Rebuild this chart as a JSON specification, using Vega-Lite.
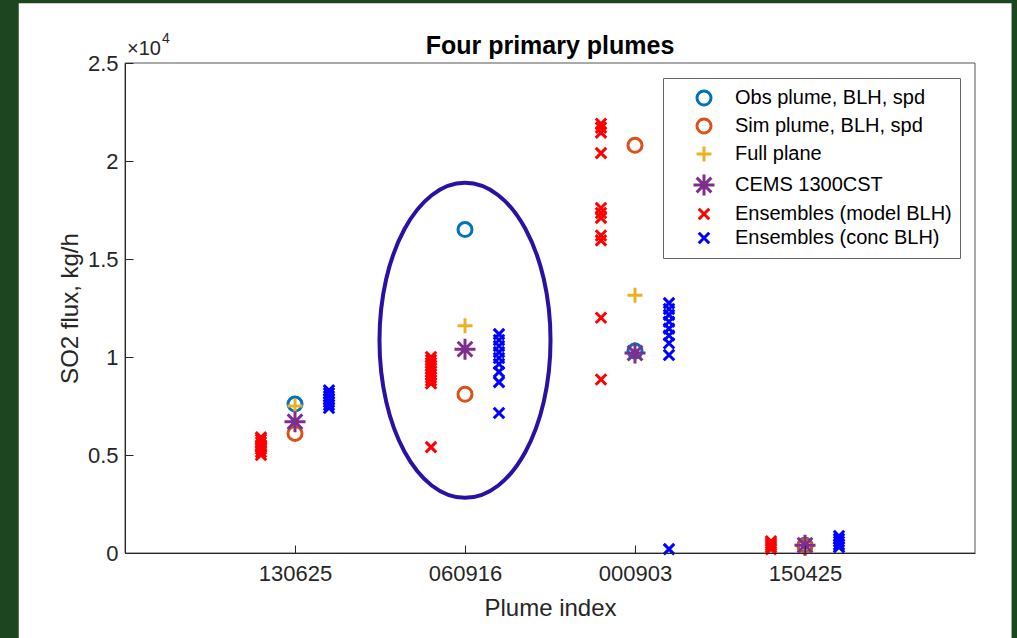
{
  "$schema": "https://vega.github.io/schema/vega-lite/v6.json",
  "width": 850,
  "height": 490,
  "autosize": {"type": "none"},
  "padding": {"left": 125, "top": 63, "right": 42, "bottom": 85},
  "background": "#1d4620",
  "config": {
    "view": {"stroke": null},
    "font": "Liberation Sans",
    "axis": {"domainColor": "#262626", "tickColor": "#262626", "labelColor": "#262626", "titleColor": "#262626", "labelFont": "Liberation Sans", "titleFont": "Liberation Sans", "labelFontSize": 22, "titleFontSize": 24, "titleFontWeight": "normal", "grid": false, "tickSize": -8, "domainWidth": 1, "tickWidth": 1},
    "legend": {"orient": "top-right", "offset": 15, "fillColor": "white", "strokeColor": "#666666", "padding": 8, "labelFont": "Liberation Sans", "labelFontSize": 20, "labelColor": "#000000", "rowPadding": 0, "symbolSize": 441, "symbolStrokeWidth": 3, "symbolOffset": 21, "labelOffset": 19, "labelLimit": 400, "zindex": 2}
  },
  "data": {"values": [
    {"idx": 1, "series": "Obs plume, BLH, spd", "flux": 7600},
    {"idx": 1, "series": "Sim plume, BLH, spd", "flux": 6100},
    {"idx": 1, "series": "Full plane", "flux": 7500},
    {"idx": 1, "series": "CEMS 1300CST", "flux": 6700},
    {"idx": 2, "series": "Obs plume, BLH, spd", "flux": 16500},
    {"idx": 2, "series": "Sim plume, BLH, spd", "flux": 8100},
    {"idx": 2, "series": "Full plane", "flux": 11600},
    {"idx": 2, "series": "CEMS 1300CST", "flux": 10400},
    {"idx": 3, "series": "Obs plume, BLH, spd", "flux": 10300},
    {"idx": 3, "series": "Sim plume, BLH, spd", "flux": 20800},
    {"idx": 3, "series": "Full plane", "flux": 13150},
    {"idx": 3, "series": "CEMS 1300CST", "flux": 10200},
    {"idx": 4, "series": "Obs plume, BLH, spd", "flux": 400},
    {"idx": 4, "series": "Sim plume, BLH, spd", "flux": 350},
    {"idx": 4, "series": "Full plane", "flux": 400},
    {"idx": 4, "series": "CEMS 1300CST", "flux": 400},
    {"idx": 1, "series": "Ensembles (model BLH)", "flux": 5900},
    {"idx": 1, "series": "Ensembles (model BLH)", "flux": 5800},
    {"idx": 1, "series": "Ensembles (model BLH)", "flux": 5650},
    {"idx": 1, "series": "Ensembles (model BLH)", "flux": 5500},
    {"idx": 1, "series": "Ensembles (model BLH)", "flux": 5400},
    {"idx": 1, "series": "Ensembles (model BLH)", "flux": 5300},
    {"idx": 1, "series": "Ensembles (model BLH)", "flux": 5150},
    {"idx": 1, "series": "Ensembles (model BLH)", "flux": 5000},
    {"idx": 2, "series": "Ensembles (model BLH)", "flux": 10000},
    {"idx": 2, "series": "Ensembles (model BLH)", "flux": 9850},
    {"idx": 2, "series": "Ensembles (model BLH)", "flux": 9700},
    {"idx": 2, "series": "Ensembles (model BLH)", "flux": 9550},
    {"idx": 2, "series": "Ensembles (model BLH)", "flux": 9400},
    {"idx": 2, "series": "Ensembles (model BLH)", "flux": 9250},
    {"idx": 2, "series": "Ensembles (model BLH)", "flux": 9100},
    {"idx": 2, "series": "Ensembles (model BLH)", "flux": 8950},
    {"idx": 2, "series": "Ensembles (model BLH)", "flux": 8800},
    {"idx": 2, "series": "Ensembles (model BLH)", "flux": 8650},
    {"idx": 2, "series": "Ensembles (model BLH)", "flux": 5400},
    {"idx": 3, "series": "Ensembles (model BLH)", "flux": 21900},
    {"idx": 3, "series": "Ensembles (model BLH)", "flux": 21700},
    {"idx": 3, "series": "Ensembles (model BLH)", "flux": 21450},
    {"idx": 3, "series": "Ensembles (model BLH)", "flux": 20400},
    {"idx": 3, "series": "Ensembles (model BLH)", "flux": 17600},
    {"idx": 3, "series": "Ensembles (model BLH)", "flux": 17350},
    {"idx": 3, "series": "Ensembles (model BLH)", "flux": 17100},
    {"idx": 3, "series": "Ensembles (model BLH)", "flux": 16200},
    {"idx": 3, "series": "Ensembles (model BLH)", "flux": 15950},
    {"idx": 3, "series": "Ensembles (model BLH)", "flux": 12000},
    {"idx": 3, "series": "Ensembles (model BLH)", "flux": 8850},
    {"idx": 4, "series": "Ensembles (model BLH)", "flux": 600},
    {"idx": 4, "series": "Ensembles (model BLH)", "flux": 500},
    {"idx": 4, "series": "Ensembles (model BLH)", "flux": 400},
    {"idx": 4, "series": "Ensembles (model BLH)", "flux": 300},
    {"idx": 4, "series": "Ensembles (model BLH)", "flux": 200},
    {"idx": 1, "series": "Ensembles (conc BLH)", "flux": 8300},
    {"idx": 1, "series": "Ensembles (conc BLH)", "flux": 8150},
    {"idx": 1, "series": "Ensembles (conc BLH)", "flux": 8000},
    {"idx": 1, "series": "Ensembles (conc BLH)", "flux": 7850},
    {"idx": 1, "series": "Ensembles (conc BLH)", "flux": 7700},
    {"idx": 1, "series": "Ensembles (conc BLH)", "flux": 7550},
    {"idx": 1, "series": "Ensembles (conc BLH)", "flux": 7400},
    {"idx": 2, "series": "Ensembles (conc BLH)", "flux": 11170},
    {"idx": 2, "series": "Ensembles (conc BLH)", "flux": 10870},
    {"idx": 2, "series": "Ensembles (conc BLH)", "flux": 10560},
    {"idx": 2, "series": "Ensembles (conc BLH)", "flux": 10250},
    {"idx": 2, "series": "Ensembles (conc BLH)", "flux": 9950},
    {"idx": 2, "series": "Ensembles (conc BLH)", "flux": 9640},
    {"idx": 2, "series": "Ensembles (conc BLH)", "flux": 9240},
    {"idx": 2, "series": "Ensembles (conc BLH)", "flux": 8720},
    {"idx": 2, "series": "Ensembles (conc BLH)", "flux": 7140},
    {"idx": 3, "series": "Ensembles (conc BLH)", "flux": 12750},
    {"idx": 3, "series": "Ensembles (conc BLH)", "flux": 12450},
    {"idx": 3, "series": "Ensembles (conc BLH)", "flux": 12150},
    {"idx": 3, "series": "Ensembles (conc BLH)", "flux": 11800},
    {"idx": 3, "series": "Ensembles (conc BLH)", "flux": 11450},
    {"idx": 3, "series": "Ensembles (conc BLH)", "flux": 11100},
    {"idx": 3, "series": "Ensembles (conc BLH)", "flux": 10700},
    {"idx": 3, "series": "Ensembles (conc BLH)", "flux": 10100},
    {"idx": 3, "series": "Ensembles (conc BLH)", "flux": 200},
    {"idx": 4, "series": "Ensembles (conc BLH)", "flux": 870},
    {"idx": 4, "series": "Ensembles (conc BLH)", "flux": 720},
    {"idx": 4, "series": "Ensembles (conc BLH)", "flux": 580},
    {"idx": 4, "series": "Ensembles (conc BLH)", "flux": 430},
    {"idx": 4, "series": "Ensembles (conc BLH)", "flux": 300}
  ]},
  "layer": [
    {
      "data": {"values": [{}]},
      "mark": {"type": "rect", "fill": "#ffffff", "clip": false},
      "encoding": {
        "x": {"datum": -0.625, "type": "quantitative", "scale": {"domain": [0, 5], "nice": false, "zero": false},
              "axis": {"title": "Plume index", "values": [1, 2, 3, 4], "labelExpr": "['','130625','060916','000903','150425',''][datum.value]", "labelPadding": 18, "titlePadding": 12, "zindex": 1}},
        "x2": {"datum": 5.215},
        "y": {"datum": 28050, "type": "quantitative", "scale": {"domain": [0, 25000], "nice": false, "zero": false},
              "axis": {"title": "SO2 flux, kg/h", "values": [0, 5000, 10000, 15000, 20000, 25000], "labelExpr": "datum.value / 10000 + ''", "labelPadding": 15, "titlePadding": 5, "zindex": 1}},
        "y2": {"datum": -4400}
      }
    },
    {
      "data": {"values": [{}]},
      "mark": {"type": "rect", "fillOpacity": 0, "stroke": "#555555", "strokeWidth": 1},
      "encoding": {
        "x": {"datum": 0, "type": "quantitative", "title": "Plume index"},
        "x2": {"datum": 5},
        "y": {"datum": 0, "type": "quantitative", "title": "SO2 flux, kg/h"},
        "y2": {"datum": 25000}
      }
    },
    {
      "data": {"values": [{"idx": 2, "flux": 10850}]},
      "mark": {"type": "point", "shape": "M0,-1C0.2999,-1,0.543,-0.5523,0.543,0C0.543,0.5523,0.2999,1,0,1C-0.2999,1,-0.543,0.5523,-0.543,0C-0.543,-0.5523,-0.2999,-1,0,-1Z", "size": 99225, "filled": false, "stroke": "#2c0fa3", "strokeWidth": 4, "opacity": 1, "clip": false},
      "encoding": {
        "x": {"field": "idx", "type": "quantitative", "title": "Plume index"},
        "y": {"field": "flux", "type": "quantitative", "title": "SO2 flux, kg/h"}
      }
    },
    {
      "data": {"values": [{}]},
      "mark": {"type": "text", "text": "Four primary plumes", "align": "center", "baseline": "alphabetic", "fontSize": 25, "fontWeight": "bold", "color": "#000000", "dy": -9, "clip": false},
      "encoding": {
        "x": {"datum": 2.5, "type": "quantitative", "title": "Plume index"},
        "y": {"datum": 25000, "type": "quantitative", "title": "SO2 flux, kg/h"}
      }
    },
    {
      "data": {"values": [{}]},
      "mark": {"type": "text", "text": "×10", "align": "left", "baseline": "alphabetic", "fontSize": 20, "color": "#262626", "dx": 2, "dy": -8, "clip": false},
      "encoding": {
        "x": {"datum": 0, "type": "quantitative", "title": "Plume index"},
        "y": {"datum": 25000, "type": "quantitative", "title": "SO2 flux, kg/h"}
      }
    },
    {
      "data": {"values": [{}]},
      "mark": {"type": "text", "text": "4", "align": "left", "baseline": "alphabetic", "fontSize": 14, "color": "#262626", "dx": 37, "dy": -20, "clip": false},
      "encoding": {
        "x": {"datum": 0, "type": "quantitative", "title": "Plume index"},
        "y": {"datum": 25000, "type": "quantitative", "title": "SO2 flux, kg/h"}
      }
    },
    {
      "transform": [{"filter": {"field": "series", "oneOf": ["Obs plume, BLH, spd", "Sim plume, BLH, spd", "Full plane", "CEMS 1300CST"]}}],
      "mark": {"type": "point", "filled": false, "strokeWidth": 3, "opacity": 1, "size": 441},
      "encoding": {
        "x": {"field": "idx", "type": "quantitative", "title": "Plume index"},
        "y": {"field": "flux", "type": "quantitative", "title": "SO2 flux, kg/h"},
        "color": {"field": "series", "type": "nominal", "legend": {"title": null},
          "scale": {"domain": ["Obs plume, BLH, spd", "Sim plume, BLH, spd", "Full plane", "CEMS 1300CST", "Ensembles (model BLH)", "Ensembles (conc BLH)"],
                    "range": ["#0072BD", "#D95319", "#EDB120", "#7E2F8E", "#FF0000", "#0000FF"]}},
        "shape": {"field": "series", "type": "nominal", "legend": {"title": null},
          "scale": {"domain": ["Obs plume, BLH, spd", "Sim plume, BLH, spd", "Full plane", "CEMS 1300CST", "Ensembles (model BLH)", "Ensembles (conc BLH)"],
                    "range": [
                      "M0,-0.667C0.3684,-0.667,0.667,-0.3684,0.667,0C0.667,0.3684,0.3684,0.667,0,0.667C-0.3684,0.667,-0.667,0.3684,-0.667,0C-0.667,-0.3684,-0.3684,-0.667,0,-0.667Z",
                      "M0,-0.667C0.3684,-0.667,0.667,-0.3684,0.667,0C0.667,0.3684,0.3684,0.667,0,0.667C-0.3684,0.667,-0.667,0.3684,-0.667,0C-0.667,-0.3684,-0.3684,-0.667,0,-0.667Z",
                      "M-0.714,0L0.714,0M0,-0.714L0,0.714",
                      "M-1,0L1,0M0,-1L0,1M-0.7,-0.7L0.7,0.7M-0.7,0.7L0.7,-0.7",
                      "M-0.5,-0.5L0.5,0.5M-0.5,0.5L0.5,-0.5",
                      "M-0.5,-0.5L0.5,0.5M-0.5,0.5L0.5,-0.5"]}}
      }
    },
    {
      "transform": [{"filter": {"field": "series", "equal": "Ensembles (model BLH)"}}],
      "mark": {"type": "point", "filled": false, "strokeWidth": 3, "opacity": 1, "size": 441, "xOffset": -34},
      "encoding": {
        "x": {"field": "idx", "type": "quantitative", "title": "Plume index"},
        "y": {"field": "flux", "type": "quantitative", "title": "SO2 flux, kg/h"},
        "color": {"field": "series", "type": "nominal", "legend": {"title": null}},
        "shape": {"field": "series", "type": "nominal", "legend": {"title": null}}
      }
    },
    {
      "transform": [{"filter": {"field": "series", "equal": "Ensembles (conc BLH)"}}],
      "mark": {"type": "point", "filled": false, "strokeWidth": 3, "opacity": 1, "size": 441, "xOffset": 34},
      "encoding": {
        "x": {"field": "idx", "type": "quantitative", "title": "Plume index"},
        "y": {"field": "flux", "type": "quantitative", "title": "SO2 flux, kg/h"},
        "color": {"field": "series", "type": "nominal", "legend": {"title": null}},
        "shape": {"field": "series", "type": "nominal", "legend": {"title": null}}
      }
    }
  ]
}
